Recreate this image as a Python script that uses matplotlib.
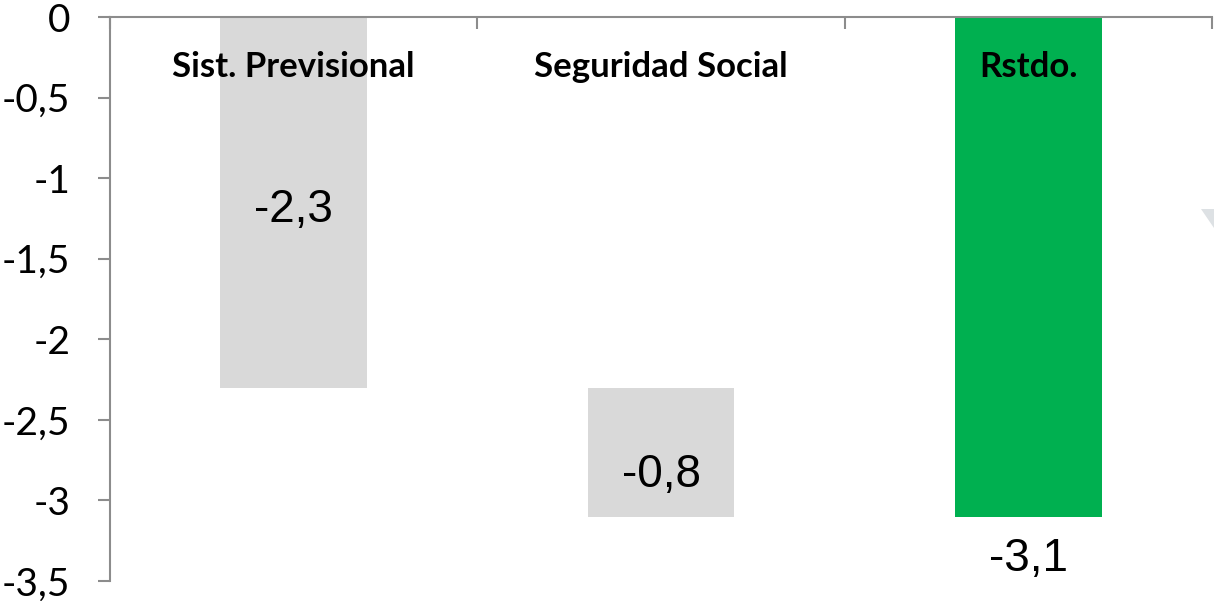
import matplotlib
matplotlib.use("Agg")
import matplotlib.pyplot as plt
from matplotlib.ticker import FuncFormatter
from matplotlib.patches import Polygon

categories = ["Sist. Previsional", "Seguridad Social", "Rstdo."]
changes = [-2.3, -0.8, -3.1]
bar_colors = ["#D9D9D9", "#D9D9D9", "#00B050"]
y_ticks = [0, -0.5, -1, -1.5, -2, -2.5, -3, -3.5]

# waterfall: first two bars stack, last is total
tops = [0, changes[0], 0]
bottoms = [changes[0], changes[0] + changes[1], changes[2]]

plt.rcParams['font.family'] = ['Lato', 'DejaVu Sans']

fig = plt.figure(figsize=(12.14, 6.01), dpi=100)
ax = fig.add_axes([110/1214, 1 - 581/601, 1102/1214, 564/601])

x = [i + 0.5 for i in range(len(categories))]
heights = [b - t for t, b in zip(tops, bottoms)]
ax.bar(x, heights, bottom=tops, width=0.4, color=bar_colors, zorder=2)

ax.set_xlim(0, 3)
ax.set_ylim(-3.5, 0)
ax.set_yticks(y_ticks)
ax.yaxis.set_major_formatter(FuncFormatter(lambda v, p: ("%g" % v).replace(".", ",")))

spine_c = "#8C8C8C"
for s in ["right", "bottom"]:
    ax.spines[s].set_visible(False)
for s in ["left", "top"]:
    ax.spines[s].set_color(spine_c)
    ax.spines[s].set_linewidth(1.5)

ax.tick_params(axis='y', direction='out', length=8.5, width=1.5, color=spine_c,
               labelsize=28, pad=20)
ax.xaxis.tick_top()
ax.set_xticks([0, 1, 2, 3])
ax.tick_params(axis='x', direction='in', length=8.5, width=1.5, color=spine_c,
               labeltop=False, labelbottom=False)

# category labels
for xi, name in zip(x, categories):
    ax.text(xi, -0.372, name, ha='center', va='baseline', fontsize=25,
            fontweight='bold', color='black', zorder=3)

# value labels
val_pos = [-1.272, -2.917, -3.438]
for xi, v, yp in zip(x, changes, val_pos):
    ax.text(xi, yp, ("%g" % v).replace(".", ","), ha='center', va='baseline',
            fontsize=33, color='black', zorder=3,
            family=['Liberation Sans', 'DejaVu Sans'])

# small decorative triangle at right edge
tri = Polygon([(1201/1214, 1 - 209/601), (1214/1214, 1 - 209/601), (1214/1214, 1 - 228/601)],
              closed=True, transform=fig.transFigure, facecolor="#DDE1E4",
              edgecolor='none')
fig.patches.append(tri)

fig.savefig("out.png", dpi=100)
